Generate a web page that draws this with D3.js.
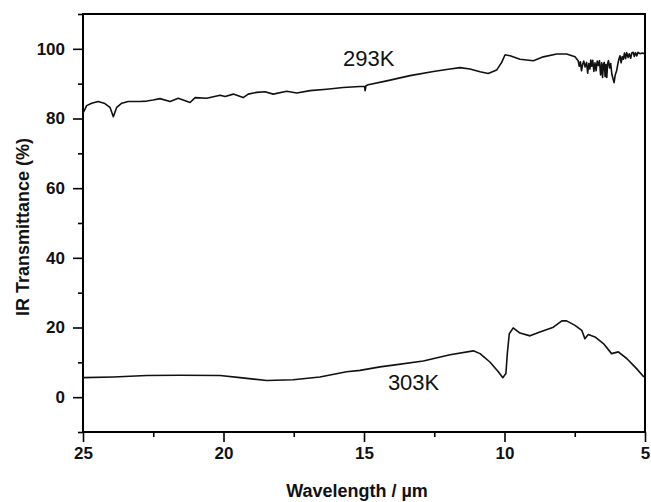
<!DOCTYPE html>
<html>
<head>
<meta charset="utf-8">
<script src="https://d3js.org/d3.v7.min.js"></script>
<style>
	body { margin: 0; background: #fff; }
	svg { display: block; font-family: "Liberation Sans", Arial, sans-serif; }
</style>
</head>
<body>
<script>

// wavelength (um) and transmittance (%)
var wl293 = [
	25.00, 24.87, 24.69, 24.46, 24.22, 24.04, 23.92, 23.80, 23.62, 23.39,
	22.97, 22.73, 22.50, 22.26, 21.90, 21.61, 21.19, 21.01, 20.60, 20.12,
	19.94, 19.65, 19.30, 19.12, 18.82, 18.52, 18.23, 17.75, 17.39, 16.92,
	16.33, 15.74, 15.14, 14.98, 14.96, 14.93, 14.85, 14.19, 13.36, 12.53,
	11.94, 11.58, 11.23, 10.87, 10.58, 10.28, 10.10, 9.98, 9.80, 9.45,
	8.97, 8.62, 8.14, 7.79, 7.49,
	// absorption band
	7.38, 7.34, 7.30, 7.26, 7.22, 7.18, 7.13, 7.08, 7.04, 7.00,
	6.96, 6.93, 6.90, 6.86, 6.82, 6.78, 6.74, 6.70, 6.66, 6.62,
	6.58, 6.54, 6.51, 6.48, 6.45, 6.42, 6.39, 6.36, 6.33, 6.30,
	6.26, 6.22, 6.18, 6.14, 6.10, 6.06, 6.01, 5.97, 5.93, 5.89,
	5.85, 5.81, 5.77, 5.73, 5.69, 5.65, 5.60, 5.56, 5.51, 5.47,
	5.42, 5.38, 5.34, 5.29, 5.25, 5.18, 5.09, 5.00
];
var tr293 = [
	81.5, 83.7, 84.4, 84.9, 84.3, 83.2, 80.5, 83.2, 84.4, 84.9,
	84.9, 85.0, 85.3, 85.7, 84.9, 85.8, 84.6, 86.0, 85.8, 86.7,
	86.3, 87.0, 86.0, 87.0, 87.5, 87.7, 87.0, 87.8, 87.3, 88.0,
	88.4, 88.9, 89.2, 89.2, 88.0, 89.4, 89.7, 90.8, 92.3, 93.5,
	94.2, 94.6, 94.2, 93.4, 92.9, 93.9, 96.1, 98.3, 98.0, 97.0,
	96.6, 97.7, 98.5, 98.5, 97.7,
	96.6, 95.0, 96.3, 93.7, 95.5, 96.5, 94.8, 96.1, 93.0, 95.8,
	94.2, 96.8, 95.0, 96.7, 93.5, 96.0, 93.7, 96.5, 95.2, 96.6,
	92.5, 96.0, 91.8, 95.5, 96.1, 92.0, 95.5, 91.8, 95.8, 96.6,
	94.5, 95.8, 92.7, 91.5, 90.3, 92.5, 93.7, 95.5, 97.0, 98.0,
	96.0, 97.8, 97.0, 98.8, 97.2, 98.9, 97.5, 98.6, 97.3, 98.8,
	99.0, 97.8, 98.9, 98.0, 99.0, 98.6, 98.8, 98.5
];

// same for the 303K trace
var wl303 = [
	25.00, 23.92, 22.73, 21.55, 20.12, 19.41, 18.46, 17.52, 16.57, 15.62,
	15.14, 14.43, 13.96, 12.89, 11.94, 11.11, 10.87, 10.52, 10.22, 10.06,
	9.95, 9.90, 9.83, 9.69, 9.45, 9.09, 8.74, 8.26, 7.96, 7.79,
	7.49, 7.25, 7.14, 7.02, 6.78, 6.48, 6.19, 5.95, 5.65, 5.30,
	5.04
];
var tr303 = [
	5.6, 5.8, 6.2, 6.3, 6.2, 5.6, 4.8, 5.0, 5.8, 7.3,
	7.7, 8.7, 9.2, 10.4, 12.2, 13.3, 12.5, 10.1, 7.3, 5.6,
	6.8, 12.5, 18.2, 19.9, 18.4, 17.6, 18.7, 20.1, 21.9, 21.9,
	20.6, 19.2, 16.8, 18.0, 17.3, 15.4, 12.5, 13.0, 11.1, 8.2,
	5.8
];

var xTicks = [25, 20, 15, 10, 5];
var xMinor = [22.5, 17.5, 12.5, 7.5];
var yTicks = [0, 20, 40, 60, 80, 100];
var yMinor = [-10, 10, 30, 50, 70, 90, 110];

// labels put next to each curve: [text, wavelength, transmittance]
var labels = [["293K", 15.75, 95.1], ["303K", 14.15, 2.0]];

window.onload = function() {
	makePlot();
};

function makePlot() {

	var width = 651;
	var height = 502;
	var left = 83, right = 645, top = 14, bottom = 432;

	var xScale = d3.scaleLinear()
	               .domain([25, 5])
	               .range([left, right]);

	var yScale = d3.scaleLinear()
	               .domain([-10, 110])
	               .range([bottom, top]);

	var svg = d3.select("body")
	            .append("svg")
	            .attr("width", width)
	            .attr("height", height);

	// minor ticks first, majors with labels on top
	svg.append("g")
	   .attr("transform", "translate(0," + bottom + ")")
	   .call(d3.axisBottom(xScale).tickValues(xMinor).tickSize(5).tickSizeOuter(0).tickFormat(""));

	svg.append("g")
	   .attr("transform", "translate(0," + bottom + ")")
	   .call(d3.axisBottom(xScale).tickValues(xTicks).tickSize(10).tickSizeOuter(0).tickPadding(5));

	svg.append("g")
	   .attr("transform", "translate(" + left + ",0)")
	   .call(d3.axisLeft(yScale).tickValues(yMinor).tickSize(5).tickSizeOuter(0).tickFormat(""));

	svg.append("g")
	   .attr("transform", "translate(" + left + ",0)")
	   .call(d3.axisLeft(yScale).tickValues(yTicks).tickSize(10).tickSizeOuter(0).tickPadding(8));

	svg.selectAll(".domain").remove();
	svg.selectAll(".tick line")
	   .attr("stroke", "#000")
	   .attr("stroke-width", 1.6);

	svg.selectAll(".tick text")
	   .attr("fill", "#111")
	   .style("font-size", "17px")
	   .style("font-weight", "bold");

	// frame round the plot
	svg.append("rect")
	   .attr("x", left)
	   .attr("y", top)
	   .attr("width", right - left)
	   .attr("height", bottom - top)
	   .attr("fill", "none")
	   .attr("stroke", "#000")
	   .attr("stroke-width", 2);

	// curves
	var series = [
		{wl: wl293, tr: tr293},
		{wl: wl303, tr: tr303}
	];

	var line = d3.line()
	             .x(function(d) { return xScale(d[0]); })
	             .y(function(d) { return yScale(d[1]); });

	series.forEach(function(s) {
		var pts = s.wl.map(function(w, i) { return [w, s.tr[i]]; });
		svg.append("path")
		   .datum(pts)
		   .attr("d", line)
		   .attr("fill", "none")
		   .attr("stroke", "#111")
		   .attr("stroke-width", 1.6)
		   .attr("stroke-linejoin", "round");
	});

	svg.selectAll(".curveLabel")
	   .data(labels)
	   .enter()
	   .append("text")
	   .attr("class", "curveLabel")
	   .attr("x", function(d) { return xScale(d[1]); })
	   .attr("y", function(d) { return yScale(d[2]); })
	   .style("font-size", "22px")
	   .attr("fill", "#111")
	   .text(function(d) { return d[0]; });

	// axis titles
	svg.append("text")
	   .attr("x", 357)
	   .attr("y", 497)
	   .style("text-anchor", "middle")
	   .style("font-size", "18px")
	   .style("font-weight", "bold")
	   .attr("fill", "#111")
	   .text("Wavelength / \u00b5m");

	svg.append("text")
	   .attr("transform", "translate(29," + ((top + bottom) / 2 + 4) + ") rotate(-90)")
	   .style("text-anchor", "middle")
	   .style("font-size", "18px")
	   .style("font-weight", "bold")
	   .attr("fill", "#111")
	   .text("IR Transmittance (%)");
}
</script>
</body>
</html>
